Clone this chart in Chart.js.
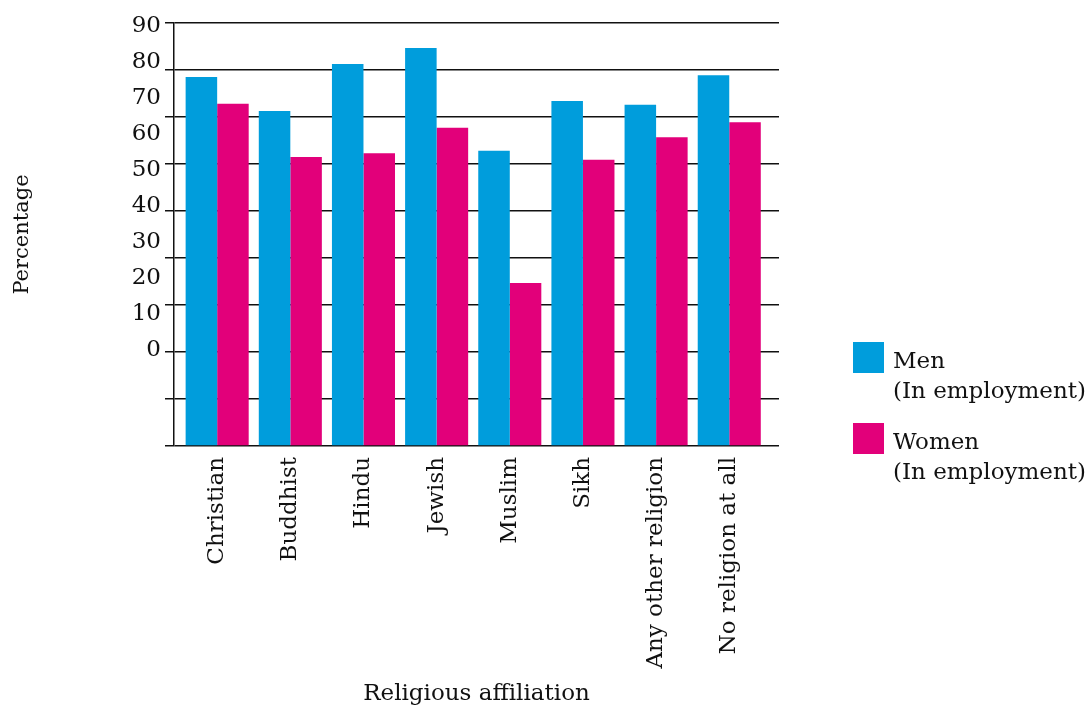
<!DOCTYPE html>
<html>
<head>
<meta charset="utf-8">
<script src="https://cdn.jsdelivr.net/npm/chart.js@4.4.0/dist/chart.umd.min.js"></script>
<style>
  body { margin: 0; background: #fff; }
  #wrap { position: relative; width: 1092px; height: 708px; }
  #legend { font-family: "DejaVu Serif", serif; font-size: 23px; color: #111; }
  .item { position: absolute; left: 853px; display: flex; }
  .box { width: 31px; height: 31px; margin-right: 9px; flex: none; }
  .txt { line-height: 30px; margin-top: 3px; white-space: nowrap; }
</style>
</head>
<body>
<div id="wrap">
  <canvas id="chart" width="1092" height="708"></canvas>
  <div id="legend"></div>
</div>
<script>
const categories = ['Christian', 'Buddhist', 'Hindu', 'Jewish', 'Muslim', 'Sikh', 'Any other religion', 'No religion at all']
const menValues = [78.5, 71.3, 81.3, 84.7, 62.8, 73.4, 72.6, 78.9]
const womenValues = [72.8, 61.5, 62.3, 67.7, 34.7, 60.9, 65.7, 68.9]
const seriesNames = [['Men', '(In employment)'], ['Women', '(In employment)']]
const seriesColors = ['#009ddc', '#e2007a']
const yTickValues = [0, 10, 20, 30, 40, 50, 60, 70, 80, 90]

const font = "'DejaVu Serif', serif"

const toPoints = (values) => values.map((v, i) => ({ x: i, y: v }))

// legend as html, the two-line labels are easier this way
const legend = document.getElementById('legend')
seriesNames.forEach((lines, i) => {
  const item = document.createElement('div')
  item.className = 'item'
  item.style.top = (342 + i * 81) + 'px'
  const box = document.createElement('div')
  box.className = 'box'
  box.style.background = seriesColors[i]
  const txt = document.createElement('div')
  txt.className = 'txt'
  txt.innerHTML = lines.join('<br>')
  item.appendChild(box)
  item.appendChild(txt)
  legend.appendChild(item)
})

new Chart(document.getElementById('chart'), {
  type: 'bar',
  data: {
    datasets: [
      { label: seriesNames[0].join(' '), data: toPoints(menValues), backgroundColor: seriesColors[0] },
      { label: seriesNames[1].join(' '), data: toPoints(womenValues), backgroundColor: seriesColors[1] }
    ]
  },
  options: {
    responsive: false,
    animation: false,
    categoryPercentage: 0.862,
    barPercentage: 1,
    layout: { padding: { top: 23, right: 313, bottom: 0, left: 0 } },
    plugins: { legend: { display: false }, tooltip: { enabled: false } },
    scales: {
      x: {
        type: 'linear',
        offset: false,
        min: -0.59,
        max: 7.68,
        grid: { display: false, drawTicks: false },
        border: { display: false },
        ticks: {
          stepSize: 1,
          autoSkip: false,
          maxRotation: 90,
          minRotation: 90,
          padding: 11,
          color: '#111',
          font: { family: font, size: 23 },
          callback: (v) => categories[v] ?? ''
        },
        afterBuildTicks: (axis) => {
          axis.ticks = axis.ticks.filter(t => Number.isInteger(t.value) && t.value >= 0 && t.value < categories.length)
        },
        afterFit: (axis) => { axis.height = 262 },
        title: {
          display: true,
          text: 'Religious affiliation',
          color: '#111',
          font: { family: font, size: 23 },
          padding: { top: 0, bottom: 0 }
        }
      },
      y: {
        position: 'left',
        weight: 0,
        min: 0,
        max: 90,
        grid: { color: '#111', lineWidth: 1.5, tickLength: 9, drawTicks: true },
        border: { display: true, color: '#111', width: 1.5 },
        ticks: { stepSize: 10, display: false },
        afterFit: (axis) => { axis.width = 9 }
      },
      // the printed labels don't sit on the gridlines in the original
      yLabels: {
        position: 'left',
        weight: 1,
        min: -26.67,
        max: 90.83,
        grid: { display: false, drawTicks: false },
        border: { display: false },
        ticks: {
          stepSize: 10,
          padding: 4,
          color: '#111',
          font: { family: font, size: 23 }
        },
        afterBuildTicks: (axis) => {
          axis.ticks = yTickValues.map(v => ({ value: v }))
        },
        afterFit: (axis) => { axis.width = 165 },
        title: {
          display: true,
          text: 'Percentage',
          color: '#111',
          font: { family: font, size: 21 },
          padding: { top: 10, bottom: 0 }
        }
      }
    }
  }
})
</script>
</body>
</html>
